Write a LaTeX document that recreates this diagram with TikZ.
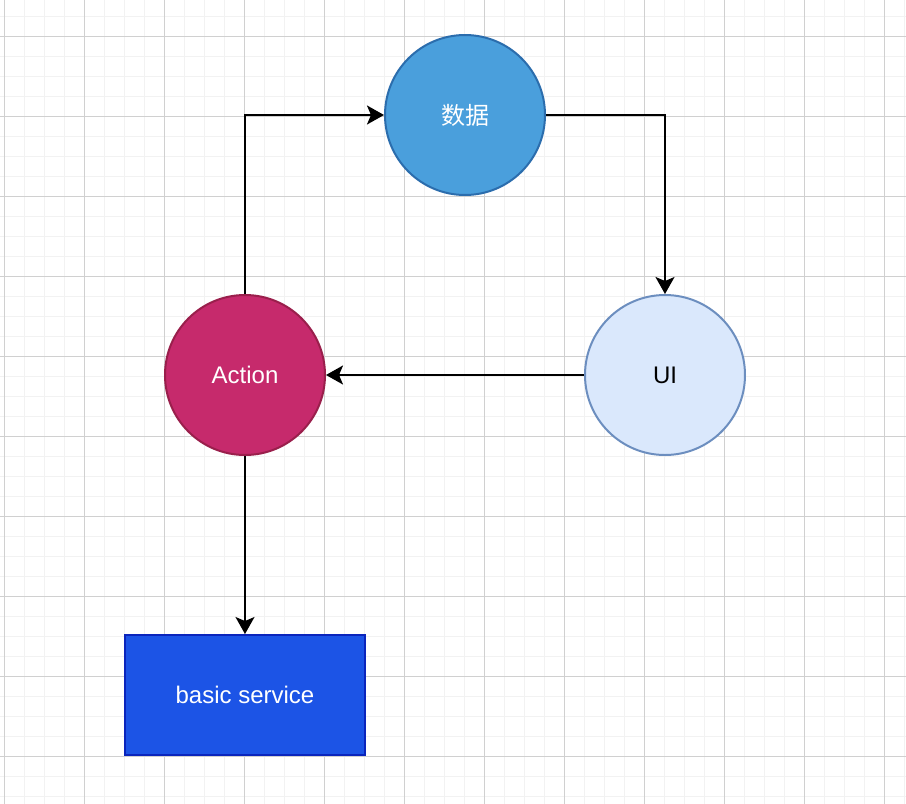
\documentclass[tikz,border=0pt]{standalone}
\usepackage{fontspec}
\setmainfont{Liberation Sans}
\newfontfamily\cjk{Noto Sans CJK SC}
\usetikzlibrary{arrows.meta, positioning, shapes}

\definecolor{gridmajor}{HTML}{D0D0D0}
\definecolor{gridminor}{HTML}{F2F2F2}
\definecolor{datafill}{HTML}{4A9FDC}
\definecolor{dataline}{HTML}{2B6DAD}
\definecolor{uifill}{HTML}{DAE8FC}
\definecolor{uiline}{HTML}{6C8EBF}
\definecolor{actfill}{HTML}{C62A6C}
\definecolor{actline}{HTML}{9A1F4C}
\definecolor{srvfill}{HTML}{1C54E6}
\definecolor{srvline}{HTML}{0A25BC}

\tikzset{
  roundnode/.style={circle, draw, line width=1pt, minimum size=80pt, inner sep=0pt},
  boxnode/.style={rectangle, draw, line width=1pt, minimum width=120pt, minimum height=60pt, inner sep=0pt},
  flow/.style={line width=1pt, -{Stealth[length=8.5pt, width=9.5pt, inset=2pt]}}
}

\begin{document}
\begin{tikzpicture}[x=0.5pt, y=-0.5pt, every node/.style={font=\fontsize{12}{14}\selectfont}]

		\useasboundingbox (0,0) rectangle (906,804);
		\fill[white] (0,0) rectangle (906,804);

		% fine grid
		\foreach \x in {4, 24, ..., 904}
		\draw[gridminor, line width=0.5pt] (\x, 0) -- (\x, 804);
		\foreach \y in {16, 36, ..., 796}
		\draw[gridminor, line width=0.5pt] (0, \y) -- (906, \y);

		% coarse grid
		\foreach \x in {4, 84, ..., 884}
		\draw[gridmajor, line width=0.5pt] (\x, 0) -- (\x, 804);
		\foreach \y in {36, 116, ..., 756}
		\draw[gridmajor, line width=0.5pt] (0, \y) -- (906, \y);

		\node[roundnode, draw=dataline, fill=datafill, text=white] (data) at (465, 115) {\cjk 数据};
		\node[roundnode, draw=uiline, fill=uifill, text=black] (ui) at (665, 375) {UI};
		\node[roundnode, draw=actline, fill=actfill, text=white] (action) at (245, 375) {Action};
		\node[boxnode, draw=srvline, fill=srvfill, text=white] (service) at (245, 695) {basic service};

		\draw[flow] (action.north) |- (data.west);
		\draw[flow] (data.east) -| (ui.north);
		\draw[flow] (ui.west) -- (action.east);
		\draw[flow] (action.south) -- (service.north);

\end{tikzpicture}
\end{document}
